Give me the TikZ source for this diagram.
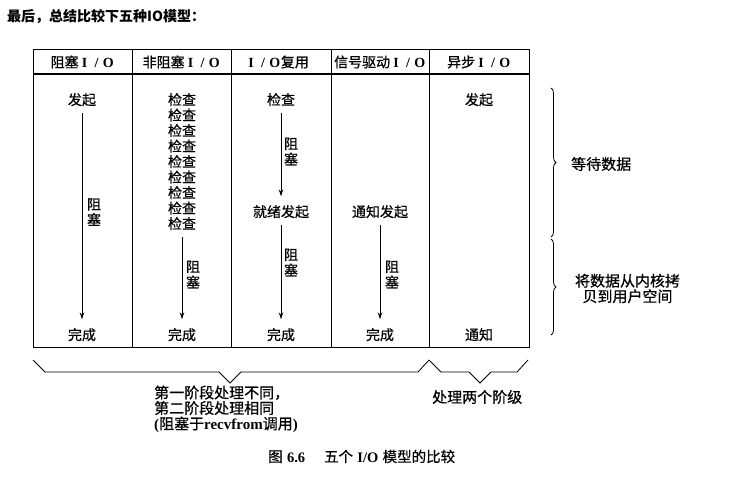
\documentclass[tikz,border=0pt]{standalone}
\usepackage{fontspec}
\setmainfont{Liberation Serif}
\newfontfamily\zh{Noto Sans CJK SC}[FakeBold=0.6]
\newfontfamily\zhtitle{Noto Sans CJK SC}
\usetikzlibrary{arrows.meta,decorations.pathreplacing}
\newcommand\fwio{{\rmfamily\bfseries\makebox[0.85em]{I}\makebox[0.85em]{/}\makebox[0.85em]{O}}}

\tikzset{
  txt/.style={font=\zh\fontsize{14}{15.5}\selectfont, inner sep=1pt, text height=10.5pt, text depth=2.5pt},
  stack/.style={font=\zh\fontsize{14}{15.5}\selectfont, inner sep=1pt, align=center},
  note/.style={font=\zh\fontsize{15}{15.5}\selectfont, inner sep=1pt},
  head/.style={font=\zh\fontsize{14}{16}\selectfont, inner sep=0pt},
  flow/.style={-{Stealth[length=7pt,width=4.5pt]}, line width=0.8pt, shorten <=4.5pt, shorten >=9pt},
  tabline/.style={line width=0.8pt},
  rbrace/.style={decorate, decoration={brace, amplitude=5pt}, line width=0.8pt},
}

\begin{document}
\begin{tikzpicture}[x=1pt, y=-1pt]
  \useasboundingbox (0,0) rectangle (737,477);

  % title line
  \node[anchor=west, font=\zhtitle\bfseries\fontsize{14}{16}\selectfont, inner sep=0pt] (title) at (7,17) {最后，总结比较下五种IO模型：};

  % table frame
  \draw[tabline] (33,49) rectangle (529,347);
  \draw[line width=2.5pt] (33,74) -- (529,74);
  \foreach \x in {132,231,331,429}
    \draw[tabline] (\x,49) -- (\x,347);

  % headers
  \node[head] (h1) at (82.5,62) {阻塞\fwio};
  \node[head] (h2) at (181.5,62) {非阻塞\fwio};
  \node[head] (h3) at (277,62) {\fwio 复用};
  \node[head] (h4) at (380,62) {信号驱动\fwio};
  \node[head] (h5) at (479,62) {异步\fwio};

  % blocking
  \node[txt] (b1) at (82,101) {发起};
  \node[txt] (e1) at (82,336) {完成};
  \draw[flow] (b1.south) -- (e1.north);
  \node[stack] (k1) at (94,212) {阻\\塞};

  % non-blocking
  \foreach \i in {1,...,9}
    \node[txt] (c\i) at (182,{101+15.5*(\i-1)}) {检查};
  \node[txt] (e2) at (182,336) {完成};
  \draw[flow] (c9.south) -- (e2.north);
  \node[stack] (k2) at (193,274.5) {阻\\塞};

  % multiplexing
  \node[txt] (b3) at (281,101) {检查};
  \node[txt] (r3) at (281,213) {就绪发起};
  \node[txt] (e3) at (281,336) {完成};
  \draw[flow] (b3.south) -- (r3.north);
  \draw[flow] (r3.south) -- (e3.north);
  \node[stack] (k3) at (291,151.5) {阻\\塞};
  \node[stack] (k4) at (291,262.5) {阻\\塞};

  % signal driven
  \node[txt] (r4) at (380,213) {通知发起};
  \node[txt] (e4) at (380,336) {完成};
  \draw[flow] (r4.south) -- (e4.north);
  \node[stack] (k5) at (392,274.5) {阻\\塞};

  % asynchronous
  \node[txt] (b5) at (479,101) {发起};
  \node[txt] (e5) at (479,336) {通知};

  % phases on the right
  \draw[rbrace] (551,88) -- (551,237);
  \draw[rbrace] (551,239) -- (551,335);
  \node[note, anchor=west] (wait) at (570,164) {等待数据};
  \node[note, align=center] (copy) at (627.5,288.5) {将数据从内核拷\\贝到用户空间};

  % groups below
  \draw[tabline] (33,360) -- (45,372) -- (219,372) -- (230,383) -- (241,372) -- (418,372) -- (429,360);
  \draw[tabline] (429,360) -- (441,372) -- (469,372) -- (480,383) -- (491,372) -- (517,372) -- (528,360);
  \node[note, align=left, anchor=west] (diff) at (153,409) {第一阶段处理不同，\\第二阶段处理相同\\{\rmfamily\bfseries(}阻塞于{\rmfamily\bfseries recvfrom}调用{\rmfamily\bfseries)}};
  \node[note, anchor=west] (both) at (431,397) {处理两个阶级};

  % caption
  \node[txt, anchor=west, font=\zh\fontsize{14.5}{16}\selectfont] (cap) at (267,458) {图\hspace{0.3em}{\rmfamily\bfseries 6.6}\hspace{1.3em}五个\hspace{0.3em}{\rmfamily\bfseries I/O}\hspace{0.3em}模型的比较};
\end{tikzpicture}
\end{document}
